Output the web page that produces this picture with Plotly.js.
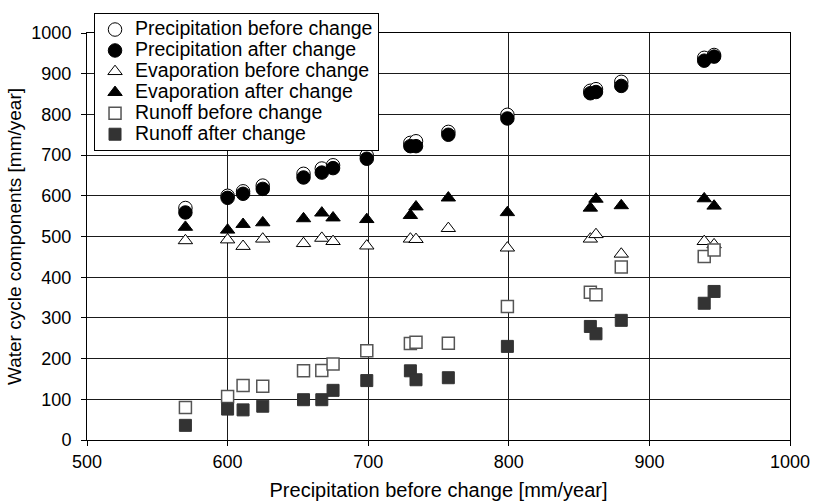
<!DOCTYPE html>
<html>
<head>
<meta charset="utf-8">
<script src="https://cdn.plot.ly/plotly-3.0.1.min.js"></script>
<style>html,body{margin:0;padding:0;background:#fff;}#chart{width:815px;height:502px;}</style>
</head>
<body>
<div id="chart"></div>
<script>
// Precipitation before change (x axis) [mm/year]
const precipBefore = [570, 600, 611, 625, 654, 667, 675, 699, 730, 734, 757, 799, 858, 862, 880, 939, 946];
const precipAfter  = [559, 595, 605, 617, 645, 657, 668, 691, 722, 722, 750, 790, 852, 855, 870, 932, 942];
const evapBefore   = [490, 492, 476, 494, 483, 496, 488, 477, 494, 493, 520, 472, 494, 505, 457, 488, 480];
const evapAfter    = [523, 516, 530, 534, 544, 558, 546, 542, 552, 573, 595, 559, 570, 592, 576, 593, 575];
const runoffBefore = [80, 107, 134, 132, 170, 171, 187, 219, 237, 240, 238, 328, 363, 357, 425, 451, 467];
const runoffAfter  = [36, 76, 74, 83, 99, 99, 122, 146, 170, 148, 153, 230, 279, 261, 294, 336, 365];

const seriesNames = [
  "Precipitation before change",
  "Precipitation after change",
  "Evaporation before change",
  "Evaporation after change",
  "Runoff before change",
  "Runoff after change"
];
const xTicks = [500, 600, 700, 800, 900, 1000];
const yTicks = [0, 100, 200, 300, 400, 500, 600, 700, 800, 900, 1000];

const FONT = "Liberation Sans, Arial, sans-serif";
const lbl = s => '<span style="font-size:19.5px">' + s + '</span>';

const traces = [
  {y: precipBefore, marker: {symbol: "circle", size: 13.5, color: "#ffffff", line: {color: "#000000", width: 1}}},
  {y: precipAfter,  marker: {symbol: "circle", size: 13.5, color: "#000000", line: {color: "#000000", width: 1}}},
  {y: evapBefore,   marker: {symbol: "triangle-up", size: 12.5, color: "#ffffff", line: {color: "#000000", width: 1}}},
  {y: evapAfter,    marker: {symbol: "triangle-up", size: 12.5, color: "#000000", line: {color: "#000000", width: 1}}},
  {y: runoffBefore, marker: {symbol: "square", size: 12, color: "#ffffff", line: {color: "#555555", width: 1.5}}},
  {y: runoffAfter,  marker: {symbol: "square", size: 12, color: "#333333", line: {color: "#333333", width: 1}}}
].map((t, i) => Object.assign({
  type: "scatter", mode: "markers", x: precipBefore, name: lbl(seriesNames[i]), cliponaxis: false
}, t));

const layout = {
  width: 815, height: 502,
  margin: {l: 87, r: 25, t: 33, b: 62},
  paper_bgcolor: "#ffffff", plot_bgcolor: "#ffffff",
  font: {family: FONT, color: "#000000", size: 18},
  showlegend: true,
  legend: {
    x: 0.01, y: 1.049, xanchor: "left", yanchor: "top",
    bgcolor: "#ffffff", bordercolor: "#000000", borderwidth: 1,
    font: {family: FONT, size: 13.8, color: "#000000"},
    itemwidth: 30, tracegroupgap: 0
  },
  xaxis: {
    range: [500, 1000], tickvals: xTicks, ticktext: xTicks.map(String),
    showgrid: true, gridcolor: "#1a1a1a", gridwidth: 1,
    showline: true, linecolor: "#000000", linewidth: 1, mirror: true,
    ticks: "outside", ticklen: 5, tickcolor: "#000000",
    zeroline: false, tickfont: {size: 18},
    title: {text: "Precipitation before change [mm/year]", font: {size: 20}, standoff: 12}
  },
  yaxis: {
    range: [0, 1000], tickvals: yTicks, ticktext: yTicks.map(String),
    showgrid: true, gridcolor: "#1a1a1a", gridwidth: 1,
    showline: true, linecolor: "#000000", linewidth: 1, mirror: true,
    ticks: "outside", ticklen: 5, tickcolor: "#000000",
    ticklabelstandoff: 6,
    zeroline: false, tickfont: {size: 18},
    title: {text: "Water cycle components [mm/year]", font: {size: 19}, standoff: 4}
  }
};

Plotly.newPlot("chart", traces, layout, {staticPlot: true, displayModeBar: false});
</script>
</body>
</html>
